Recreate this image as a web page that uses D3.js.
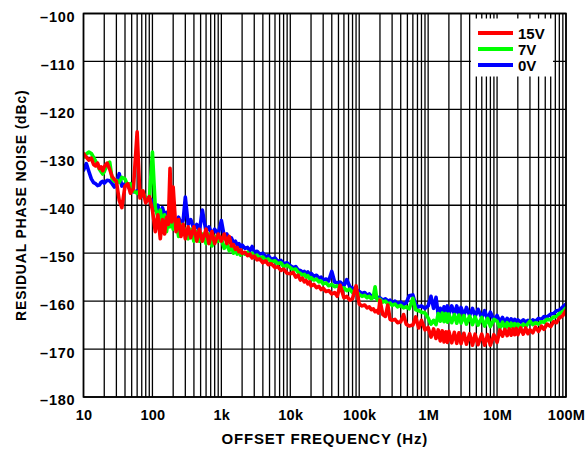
<!DOCTYPE html>
<html><head><meta charset="utf-8">
<script src="https://cdn.jsdelivr.net/npm/d3@7"></script>
<style>
html,body{margin:0;padding:0;background:#fff;}
svg{display:block;font-family:"Liberation Sans",Arial,sans-serif;font-weight:bold;}
</style></head>
<body><svg id="c" width="587" height="450"></svg>
<script>
const freqs = [
10,11,12,13,14,15,16,17,18,19,20,22,24,26,28,30,33,36,40,44,48,53,60,66,73,80,90,
100,110,120,130,140,150,160,170,180,190,200,220,240,260,280,300,330,360,400,440,480,530,600,660,730,800,900,
1e3,1.1e3,1.2e3,1.3e3,1.4e3,1.5e3,1.6e3,1.7e3,1.8e3,1.9e3,2e3,2.2e3,2.4e3,2.6e3,2.8e3,3e3,3.3e3,3.6e3,4e3,4.4e3,4.8e3,5.3e3,6e3,6.6e3,7.3e3,8e3,9e3,
1e4,1.1e4,1.2e4,1.3e4,1.4e4,1.5e4,1.6e4,1.7e4,1.8e4,1.9e4,2e4,2.2e4,2.4e4,2.6e4,2.8e4,3e4,3.3e4,3.6e4,4e4,4.4e4,4.8e4,5.3e4,6e4,6.6e4,7.3e4,8e4,9e4,
1e5,1.1e5,1.2e5,1.3e5,1.4e5,1.5e5,1.6e5,1.7e5,1.8e5,1.9e5,2e5,2.2e5,2.4e5,2.6e5,2.8e5,3e5,3.3e5,3.6e5,4e5,4.4e5,4.8e5,5.3e5,6e5,6.6e5,7.3e5,8e5,9e5,
1e6,1.1e6,1.2e6,1.3e6,1.4e6,1.5e6,1.6e6,1.7e6,1.8e6,1.9e6,2e6,2.2e6,2.4e6,2.6e6,2.8e6,3e6,3.3e6,3.6e6,4e6,4.4e6,4.8e6,5.3e6,6e6,6.6e6,7.3e6,8e6,9e6,
1e7,1.1e7,1.2e7,1.3e7,1.4e7,1.5e7,1.6e7,1.7e7,1.8e7,1.9e7,2e7,2.2e7,2.4e7,2.6e7,2.8e7,3e7,3.3e7,3.6e7,4e7,4.4e7,4.8e7,5.3e7,6e7,6.6e7,7.3e7,8e7,9e7,1e8
];

const noise15V = [
-129.2,-130.0,-130.6,-130.2,-131.5,-131.8,-131.2,-132.3,-132.0,-132.8,-132.0,-131.2,-132.5,-134.0,-134.6,-135.0,-139.0,-140.5,-136.0,-135.5,-137.5,-136.5,-124.7,-138.5,-137.0,-139.5,-138.2,
-141.0,-145.5,-142.0,-147.0,-143.0,-146.0,-142.5,-144.0,-132.3,-143.5,-136.2,-145.5,-143.0,-146.5,-144.0,-147.0,-144.5,-146.8,-144.5,-147.5,-145.0,-147.5,-145.0,-148.0,-145.5,-148.0,-146.0,
-147.5,-146.0,-148.0,-146.5,-148.5,-148.2,-149.2,-148.8,-149.7,-149.3,-150.0,-149.8,-150.5,-150.2,-151.0,-150.6,-151.4,-151.2,-152.0,-151.6,-152.4,-152.2,-153.0,-152.8,-153.6,-153.3,-154.2,
-154.3,-154.0,-155.0,-154.6,-155.6,-155.2,-156.0,-155.7,-156.4,-156.0,-156.8,-156.5,-157.2,-156.9,-157.6,-157.3,-158.0,-157.8,-158.5,-158.2,-159.0,-156.7,-159.3,-159.0,-159.8,-159.5,-156.8,
-160.6,-161.0,-160.8,-161.4,-161.2,-161.8,-161.6,-162.2,-162.0,-162.5,-159.8,-162.8,-163.2,-160.8,-163.8,-164.0,-163.8,-164.5,-164.3,-162.8,-164.8,-165.2,-165.0,-163.3,-165.6,-164.0,-166.0,
-165.5,-167.5,-165.8,-167.8,-166.0,-168.3,-166.2,-168.5,-166.4,-168.6,-166.3,-168.7,-166.5,-168.8,-166.6,-168.9,-166.7,-169.0,-166.8,-169.2,-166.9,-169.1,-166.9,-169.2,-167.0,-169.2,-167.0,
-168.6,-166.0,-167.3,-165.9,-167.2,-165.8,-167.1,-165.8,-167.0,-165.7,-167.0,-165.6,-166.9,-165.6,-166.8,-166.0,-166.6,-165.4,-166.3,-165.2,-165.9,-164.8,-165.3,-164.3,-164.5,-163.5,-163.0,-161.9
];

const noise7V = [
-130.0,-129.3,-128.9,-129.2,-130.0,-130.8,-131.5,-132.5,-133.0,-133.5,-133.0,-131.5,-131.0,-134.5,-135.0,-134.8,-135.2,-134.2,-134.5,-136.0,-135.5,-137.0,-137.5,-136.8,-137.5,-138.5,-139.0,
-128.9,-140.5,-142.5,-141.0,-144.5,-142.0,-145.5,-143.0,-144.5,-142.5,-145.0,-143.5,-146.5,-144.0,-146.0,-145.0,-147.0,-145.0,-147.5,-145.5,-147.5,-146.0,-148.0,-146.0,-148.5,-146.5,-147.5,
-147.0,-149.0,-148.0,-149.5,-148.5,-150.0,-149.0,-150.2,-149.5,-150.4,-149.8,-150.2,-149.8,-150.5,-150.0,-150.8,-150.4,-151.0,-150.8,-151.5,-151.2,-151.8,-151.6,-152.2,-152.0,-152.8,-152.5,
-153.0,-153.5,-153.3,-154.0,-154.2,-154.6,-154.4,-155.0,-154.7,-155.3,-155.1,-155.6,-155.4,-156.0,-155.8,-156.4,-156.2,-156.8,-156.5,-157.0,-156.8,-157.3,-157.2,-157.8,-157.5,-158.2,-158.0,
-158.6,-159.0,-158.8,-159.3,-159.0,-159.5,-159.2,-157.0,-159.5,-159.9,-159.6,-160.2,-160.0,-160.6,-160.4,-160.9,-160.6,-161.2,-160.9,-161.4,-161.2,-161.6,-159.4,-161.8,-162.0,-162.3,-162.5,
-163.5,-164.8,-164.0,-164.9,-162.6,-164.2,-162.5,-164.3,-162.6,-164.4,-162.7,-164.5,-162.8,-164.6,-162.9,-164.6,-163.0,-164.8,-163.1,-164.9,-163.3,-165.0,-163.4,-165.2,-163.6,-165.3,-163.8,
-164.2,-165.6,-164.4,-165.7,-164.5,-165.6,-164.6,-165.5,-164.7,-165.5,-164.8,-165.4,-164.8,-165.3,-164.7,-164.2,-164.9,-164.5,-164.8,-164.3,-164.4,-163.8,-163.9,-163.3,-163.2,-162.6,-162.2,-161.4
];

const noise0V = [
-132.7,-131.3,-133.0,-134.5,-135.3,-135.5,-135.9,-135.8,-135.2,-135.0,-135.4,-134.8,-134.9,-135.5,-136.2,-135.5,-133.4,-136.0,-135.5,-136.0,-136.8,-137.2,-137.0,-137.8,-138.0,-138.4,-138.6,
-139.0,-141.0,-140.0,-142.5,-140.5,-142.0,-141.5,-143.0,-142.0,-143.5,-142.5,-143.5,-142.5,-144.0,-143.0,-138.3,-144.0,-143.0,-145.0,-144.0,-145.5,-141.0,-145.5,-144.5,-146.0,-145.0,-146.0,
-143.2,-146.5,-146.0,-147.2,-146.8,-147.8,-147.5,-148.3,-148.0,-148.7,-148.3,-149.0,-148.8,-149.5,-148.6,-149.8,-149.6,-150.2,-150.0,-150.8,-150.5,-151.3,-151.0,-151.7,-151.5,-152.2,-152.0,
-152.6,-153.0,-152.8,-153.5,-153.6,-153.9,-153.8,-154.2,-153.9,-154.4,-154.2,-154.8,-154.6,-155.2,-155.0,-155.6,-155.4,-155.8,-153.8,-156.0,-156.2,-156.0,-156.8,-155.5,-157.0,-157.3,-157.6,
-158.0,-158.4,-158.2,-158.8,-158.5,-159.0,-158.8,-159.2,-159.0,-159.5,-159.3,-159.8,-159.5,-160.0,-159.8,-160.3,-160.0,-160.5,-160.2,-160.7,-160.4,-158.9,-158.7,-160.8,-161.2,-161.0,-161.5,
-161.0,-159.0,-161.5,-159.2,-162.8,-161.5,-163.0,-161.2,-162.8,-161.0,-162.8,-161.0,-162.7,-161.0,-162.8,-161.3,-163.0,-161.3,-163.0,-161.5,-163.2,-161.7,-163.5,-162.0,-163.8,-162.3,-164.0,
-163.0,-164.3,-163.4,-164.5,-163.6,-164.5,-163.7,-164.4,-163.8,-164.5,-163.9,-164.4,-163.9,-164.4,-164.0,-164.6,-163.9,-164.2,-163.6,-163.8,-163.2,-163.3,-162.7,-162.6,-162.0,-161.9,-161.2,-160.6
];

const xTickValues = [10,100,1e3,1e4,1e5,1e6,1e7,1e8];
const xTickLabels = ["10","100","1k","10k","100k","1M","10M","100M"];
const yTickValues = [-100,-110,-120,-130,-140,-150,-160,-170,-180];
const yTickLabels = ["–100","–110","–120","–130","–140","–150","–160","–170","–180"];
const seriesNames = ["15V","7V","0V"];
const seriesColors = ["#ff0000","#00ff00","#0000ff"];
const xTitle = "OFFSET FREQUENCY (Hz)";
const yTitle = "RESIDUAL PHASE NOISE (dBc)";

const L = 83.5, R = 566, T = 13.5, B = 397;
const svg = d3.select("#c");
const x = d3.scaleLog().domain([10,1e8]).range([L,R]);
const y = d3.scaleLinear().domain([-180,-100]).range([B,T]);

// grid
const gridX = [];
for (let d = 10; d < 1e8; d *= 10) for (let m = 1; m <= 9; m++) gridX.push(d*m);
gridX.push(1e8);
const g = svg.append("g");
g.selectAll("line.vx").data(gridX).join("line")
  .attr("x1", d => x(d)).attr("x2", d => x(d)).attr("y1", T).attr("y2", B)
  .attr("stroke", "#000").attr("stroke-width", 1.3);
g.selectAll("line.hy").data(yTickValues).join("line")
  .attr("x1", L).attr("x2", R).attr("y1", d => y(d)).attr("y2", d => y(d))
  .attr("stroke", "#000").attr("stroke-width", 1.3);

const FF = "'Liberation Sans',Arial,sans-serif";
// axes labels
const xAxis = d3.axisBottom(x).tickValues(xTickValues).tickSize(0).tickPadding(0)
  .tickFormat((d,i) => xTickLabels[i]);
const xa = svg.append("g").attr("transform", `translate(0,${B})`).call(xAxis);
xa.select(".domain").remove();
xa.selectAll("text").attr("y", 23).attr("dy", 0).attr("font-size", 14.5)
  .attr("letter-spacing", "0.3px")
  .attr("font-family", FF).attr("font-weight", "bold").attr("fill", "#000");

const yAxis = d3.axisLeft(y).tickValues(yTickValues).tickSize(0).tickPadding(0)
  .tickFormat((d,i) => yTickLabels[i]);
const ya = svg.append("g").attr("transform", `translate(${L-8},0)`).call(yAxis);
ya.select(".domain").remove();
ya.selectAll("text").attr("dy", "0.55em").attr("font-size", 14.5)
  .attr("letter-spacing", "0.8px")
  .attr("font-family", FF).attr("font-weight", "bold").attr("fill", "#000");

// clip
svg.append("clipPath").attr("id", "clip").append("rect")
  .attr("x", L).attr("y", T).attr("width", R-L).attr("height", B-T);

const line = d3.line().x(d => x(d[0])).y(d => y(d[1]));
const data = [noise0V, noise7V, noise15V];
const cols = [seriesColors[2], seriesColors[1], seriesColors[0]];
const pg = svg.append("g").attr("clip-path", "url(#clip)");
data.forEach((vals, k) => {
  pg.append("path").datum(freqs.map((f,i) => [f, vals[i]]))
    .attr("d", line).attr("fill", "none").attr("stroke", cols[k])
    .attr("stroke-width", 3.6).attr("stroke-linejoin", "round").attr("stroke-linecap", "round");
});

// border
svg.append("rect").attr("x", L).attr("y", T).attr("width", R-L).attr("height", B-T)
  .attr("fill", "none").attr("stroke", "#000").attr("stroke-width", 1.6);

// legend
const lg = svg.append("g");
lg.append("rect").attr("x", 471).attr("y", 18.5).attr("width", 82).attr("height", 58).attr("fill", "#fff");
seriesNames.forEach((n, i) => {
  const yy = 33 + i*16;
  lg.append("line").attr("x1", 478).attr("x2", 513).attr("y1", yy).attr("y2", yy)
    .attr("stroke", seriesColors[i]).attr("stroke-width", 4);
  lg.append("text").attr("x", 518).attr("y", yy + 5.5).attr("font-size", 15).text(n);
});

// titles
svg.append("text").attr("x", (L+R)/2).attr("y", 444).attr("text-anchor", "middle")
  .attr("font-size", 15).attr("letter-spacing", "0.8px").text(xTitle);
svg.append("text").attr("transform", `translate(26,${(T+B)/2}) rotate(-90)`)
  .attr("text-anchor", "middle").attr("font-size", 14).attr("letter-spacing", "0.8px").text(yTitle);
</script></body></html>
